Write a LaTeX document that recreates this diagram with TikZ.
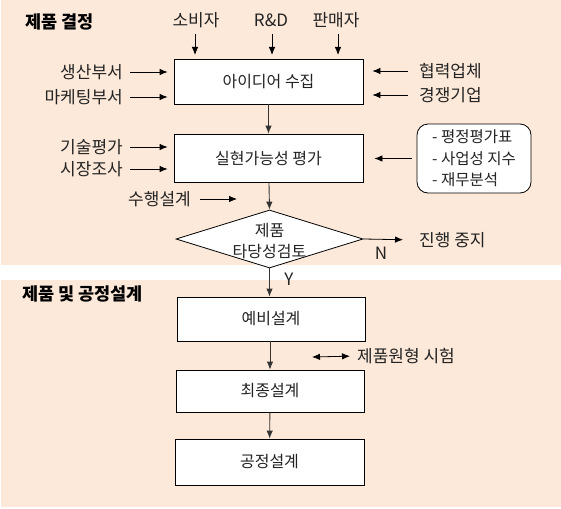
\documentclass[tikz,border=0pt]{standalone}
\usepackage{fontspec}
\setmainfont{Noto Sans CJK KR}
\usetikzlibrary{arrows.meta,shapes.geometric}
\definecolor{panel}{RGB}{253,233,217}
\definecolor{txt}{RGB}{35,35,35}
\tikzset{
  lbl/.style={inner sep=0pt, text=txt, font=\fontsize{17}{20}\selectfont},
  ttl/.style={inner sep=0pt, anchor=west, text=black, font=\fontsize{17.5}{20}\selectfont\bfseries},
  box/.style={draw=black, line width=0.8pt, fill=white, minimum width=189pt, inner sep=0pt, text=txt, font=\fontsize{16}{19}\selectfont},
  arr/.style={line width=0.8pt, -{Latex[length=8pt,width=6.5pt]}},
  darr/.style={line width=0.8pt, {Latex[length=8pt,width=6.5pt]}-{Latex[length=8pt,width=6.5pt]}},
  link/.style={draw=black!80, line width=0.9pt, -{Latex[length=8pt,width=6.5pt]}}
}
\begin{document}
\begin{tikzpicture}[x=1pt,y=-1pt]
\useasboundingbox (0,0) rectangle (561,508);
% panels
\fill[panel] (1,0) rectangle (561,265);
\fill[panel] (1,280) rectangle (561,507);
\node[ttl] (t1) at (25,22) {제품 결정};
\node[ttl] (t2) at (22,294) {제품 및 공정설계};

% main boxes
\node[box, minimum height=45pt] (b1) at (268.5,81.5) {아이디어 수집};
\node[box, minimum height=48pt] (b2) at (268.5,158) {실현가능성 평가};
\node[draw=black, line width=0.8pt, fill=white, diamond, minimum width=187pt, minimum height=58pt, aspect=3.2, inner sep=0pt] (d) at (269.5,239) {};
\node[text=txt, inner sep=0pt, font=\fontsize{16}{21}\selectfont, align=center] (dt) at (269.5,241) {제품\\타당성검토};
\node[box, minimum width=188pt, minimum height=44pt] (b3) at (271,319) {예비설계};
\node[box, minimum width=188pt, minimum height=42pt] (b4) at (270,391) {최종설계};
\node[box, minimum width=189pt, minimum height=46pt] (b5) at (269.5,462) {공정설계};

% top inputs
\node[lbl] (c1) at (196,20) {소비자};
\node[lbl] (c2) at (271,20) {R\&D};
\node[lbl] (c3) at (336,20) {판매자};
\foreach \n/\x in {c1/195,c2/272,c3/338}{
  \draw[arr] (\x,34) -- (\x,55);
}
% left inputs
\node[lbl, anchor=east] (l1) at (123,72) {생산부서};
\node[lbl, anchor=east] (l2) at (123,97) {마케팅부서};
\node[lbl, anchor=east] (l3) at (123,147) {기술평가};
\node[lbl, anchor=east] (l4) at (123,169) {시장조사};
\foreach \n in {l1,l2}{
  \draw[arr, shorten <=7pt, shorten >=6pt] (\n.east) -- (\n.east -| b1.west);
}
\foreach \n in {l3,l4}{
  \draw[arr, shorten <=7pt, shorten >=6pt] (\n.east) -- (\n.east -| b2.west);
}
% right inputs
\node[lbl, anchor=west] (r1) at (419,71) {협력업체};
\node[lbl, anchor=west] (r2) at (419,95) {경쟁기업};
\foreach \n in {r1,r2}{
  \draw[arr, shorten <=11pt, shorten >=9pt] (\n.west) -- (\n.west -| b1.east);
}
% rounded box
\node[draw=black, line width=0.8pt, fill=white, rounded corners=11pt, minimum width=114pt, minimum height=69pt, inner sep=0pt,
      text=txt, font=\fontsize{15.5}{21.5}\selectfont, align=left] (rb) at (474,158.5) {- 평정평가표\\- 사업성 지수\\- 재무분석};
\draw[arr, shorten <=5pt, shorten >=11pt] (rb.west) -- (rb.west -| b2.east);

% 수행설계
\node[lbl, anchor=east] (s1) at (191,199) {수행설계};
\coordinate (s1e) at (237,199);
\draw[arr, shorten <=9pt] (s1.east) -- (s1e);

% main flow
\draw[link] (b1) -- (b2);
\draw[link] (b2) -- (d.north);
\draw[link] (d.south) -- (b3.north -| d.south);
\draw[link] (b3.south -| b4.north) -- (b4.north);
\draw[link] (b4) -- (b5);
\node[lbl] (y) at (289,279) {Y};
\node[lbl] (n) at (381,253) {N};
\node[lbl, anchor=west] (stop) at (419,240) {진행 중지};
\draw[arr, shorten >=16pt] (d.east) -- (stop.west);

% prototype test
\coordinate (pl) at (312,357);
\node[lbl, anchor=west] (proto) at (357,356) {제품원형 시험};
\draw[darr, shorten >=7pt] (pl) -- (proto.west);
\end{tikzpicture}
\end{document}
